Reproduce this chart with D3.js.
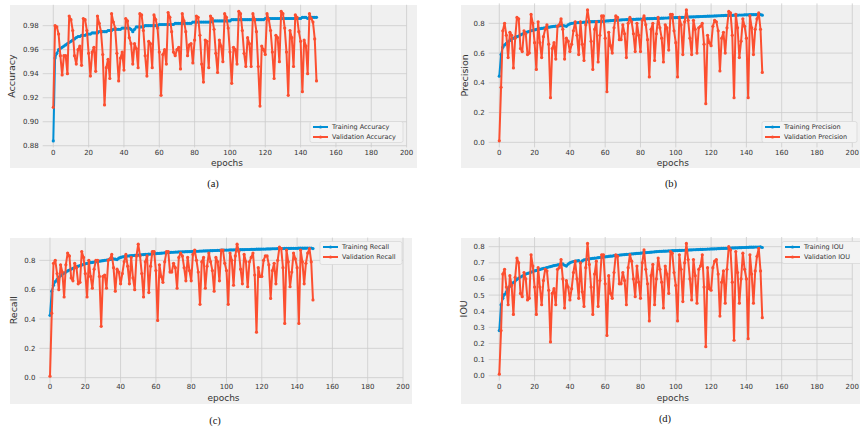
<!DOCTYPE html>
<html>
<head>
<meta charset="utf-8">
<script src="https://cdn.jsdelivr.net/npm/d3@7"></script>
<style>
body { margin: 0; background: #fff; }
svg { display: block; font-family: "DejaVu Sans", sans-serif; }
</style>
</head>
<body>
<script>
// epochs 0..149
var epochs = d3.range(150);

var trainAcc = [
 .884,.953,.957,.960,.961,.962,.963,.964,.965,.966,
 .967,.968,.969,.970,.971,.971,.972,.972,.972,.973,
 .973,.973,.974,.974,.974,.974,.975,.975,.975,.975,
 .975,.976,.976,.976,.977,.977,.977,.977,.977,.978,
 .978,.978,.978,.978,.977,.975,.977,.979,.979,.979,
 .979,.979,.980,.980,.980,.980,.980,.980,.980,.980,
 .981,.981,.981,.981,.981,.981,.981,.981,.981,.982,
 .982,.982,.982,.982,.982,.982,.982,.982,.982,.983,
 .983,.983,.983,.983,.983,.983,.983,.983,.983,.983,
 .984,.984,.984,.984,.984,.984,.984,.984,.984,.984,
 .984,.985,.985,.985,.985,.985,.985,.985,.985,.985,
 .985,.985,.985,.985,.985,.985,.985,.985,.985,.985,
 .986,.986,.986,.986,.986,.986,.986,.986,.986,.986,
 .986,.986,.986,.986,.986,.986,.986,.986,.986,.986,
 .986,.987,.987,.987,.986,.987,.987,.987,.987,.987];
var valAcc = [
 .912,.980,.979,.973,.955,.939,.955,.955,.940,.988,
 .985,.976,.955,.948,.960,.963,.947,.986,.985,.976,
 .957,.938,.958,.962,.942,.988,.982,.975,.956,.914,
 .945,.952,.936,.990,.983,.978,.957,.934,.953,.958,
 .943,.986,.984,.970,.965,.948,.965,.961,.945,.990,
 .989,.976,.955,.938,.967,.965,.945,.989,.985,.978,
 .958,.922,.956,.960,.948,.991,.987,.975,.958,.955,
 .960,.962,.944,.990,.984,.975,.955,.964,.965,.949,
 .968,.988,.987,.972,.948,.933,.968,.967,.945,.988,
 .986,.977,.957,.941,.968,.963,.950,.990,.987,.978,
 .958,.932,.962,.960,.948,.992,.990,.976,.957,.946,
 .970,.965,.946,.990,.985,.975,.946,.913,.963,.960,
 .956,.990,.985,.976,.958,.936,.972,.970,.950,.992,
 .990,.978,.958,.922,.976,.970,.946,.989,.987,.975,
 .967,.925,.968,.963,.940,.990,.986,.983,.969,.934];

var trainPrec = [
 .445,.590,.640,.655,.665,.675,.685,.695,.700,.705,
 .710,.715,.722,.728,.733,.738,.742,.746,.750,.753,
 .756,.759,.762,.764,.766,.768,.770,.772,.774,.776,
 .778,.780,.781,.782,.783,.784,.785,.783,.780,.790,
 .796,.800,.802,.803,.804,.805,.806,.807,.808,.809,
 .810,.810,.811,.811,.812,.812,.813,.813,.814,.814,
 .815,.816,.817,.818,.819,.820,.821,.822,.822,.823,
 .824,.824,.825,.825,.826,.826,.827,.827,.828,.828,
 .829,.829,.830,.830,.831,.831,.832,.832,.833,.833,
 .834,.834,.835,.835,.836,.836,.837,.837,.838,.838,
 .839,.839,.840,.840,.841,.841,.842,.842,.843,.843,
 .844,.844,.845,.845,.846,.846,.847,.847,.848,.848,
 .849,.849,.850,.850,.851,.851,.852,.852,.853,.853,
 .853,.854,.854,.855,.855,.855,.856,.856,.856,.857,
 .857,.857,.858,.858,.858,.858,.859,.859,.859,.855];
var valPrec = [
 .01,.37,.75,.80,.72,.57,.74,.72,.50,.70,
 .84,.83,.63,.61,.75,.73,.59,.60,.86,.80,
 .67,.49,.81,.67,.57,.71,.76,.79,.66,.30,
 .63,.67,.56,.78,.79,.83,.76,.56,.70,.68,
 .61,.66,.75,.81,.72,.59,.81,.66,.55,.79,
 .89,.81,.68,.49,.76,.81,.54,.72,.85,.85,
 .70,.34,.74,.65,.60,.77,.85,.84,.69,.69,
 .79,.73,.57,.80,.84,.81,.73,.61,.80,.72,
 .61,.82,.85,.79,.69,.44,.76,.80,.55,.73,
 .84,.77,.70,.54,.79,.77,.62,.86,.86,.75,
 .67,.44,.84,.79,.59,.81,.89,.82,.70,.59,
 .82,.76,.60,.77,.78,.80,.66,.26,.72,.67,
 .65,.78,.82,.81,.75,.48,.70,.74,.60,.77,
 .88,.87,.72,.30,.86,.77,.57,.68,.83,.78,
 .70,.30,.85,.77,.59,.76,.83,.87,.76,.47];

var trainRec = [
 .425,.590,.630,.655,.670,.685,.695,.705,.712,.720,
 .728,.734,.740,.745,.750,.756,.760,.764,.768,.772,
 .776,.779,.782,.784,.786,.788,.790,.792,.794,.796,
 .798,.800,.802,.804,.806,.808,.810,.808,.805,.815,
 .820,.823,.825,.827,.829,.831,.832,.833,.834,.835,
 .836,.837,.838,.839,.840,.841,.842,.843,.844,.845,
 .846,.847,.848,.849,.850,.851,.852,.853,.854,.855,
 .855,.856,.856,.857,.857,.858,.858,.859,.859,.860,
 .860,.861,.861,.862,.862,.863,.863,.864,.864,.865,
 .865,.866,.866,.867,.867,.868,.868,.869,.869,.870,
 .870,.870,.871,.871,.871,.872,.872,.872,.873,.873,
 .873,.874,.874,.874,.875,.875,.875,.876,.876,.876,
 .877,.877,.877,.878,.878,.878,.879,.879,.879,.880,
 .880,.880,.880,.881,.881,.881,.881,.882,.882,.882,
 .882,.883,.883,.883,.883,.883,.884,.884,.884,.880];
var valRec = [
 .01,.44,.78,.80,.71,.60,.77,.72,.55,.77,
 .85,.83,.68,.66,.78,.75,.64,.65,.86,.82,
 .71,.55,.80,.69,.61,.74,.80,.80,.69,.35,
 .69,.70,.61,.80,.81,.84,.75,.59,.74,.72,
 .64,.71,.79,.84,.76,.64,.82,.68,.60,.83,
 .91,.83,.71,.55,.79,.83,.58,.76,.86,.86,
 .73,.39,.77,.69,.65,.79,.86,.86,.72,.72,
 .78,.75,.61,.82,.85,.83,.75,.66,.82,.73,
 .66,.84,.87,.80,.72,.50,.79,.82,.61,.76,
 .85,.79,.73,.59,.82,.79,.66,.87,.87,.78,
 .73,.50,.85,.80,.63,.83,.91,.86,.74,.64,
 .84,.79,.62,.79,.82,.85,.70,.31,.75,.69,
 .69,.80,.83,.83,.77,.54,.73,.78,.64,.80,
 .89,.88,.75,.37,.87,.79,.62,.72,.85,.81,
 .75,.37,.87,.79,.64,.78,.85,.88,.79,.53];

var trainIou = [
 .280,.440,.480,.505,.520,.540,.555,.567,.578,.588,
 .597,.605,.612,.618,.624,.630,.634,.638,.642,.646,
 .650,.653,.656,.659,.662,.665,.668,.671,.674,.677,
 .680,.683,.685,.687,.689,.691,.693,.685,.680,.692,
 .700,.705,.708,.710,.712,.714,.700,.712,.718,.720,
 .722,.724,.726,.728,.729,.730,.732,.733,.734,.736,
 .737,.738,.740,.741,.742,.744,.745,.746,.748,.749,
 .750,.751,.752,.753,.754,.755,.756,.757,.758,.759,
 .760,.761,.762,.763,.764,.765,.766,.767,.768,.769,
 .770,.771,.771,.772,.772,.773,.774,.774,.775,.775,
 .776,.776,.777,.777,.778,.778,.779,.779,.780,.780,
 .781,.781,.782,.782,.783,.783,.784,.784,.785,.785,
 .786,.786,.787,.787,.788,.788,.789,.789,.790,.790,
 .791,.791,.792,.792,.793,.793,.794,.794,.795,.795,
 .796,.796,.797,.797,.797,.798,.798,.798,.799,.795];
var valIou = [
 .01,.28,.63,.66,.55,.44,.62,.56,.38,.61,
 .73,.70,.51,.49,.64,.60,.47,.48,.75,.68,
 .55,.38,.67,.55,.44,.59,.66,.65,.53,.21,
 .51,.54,.44,.66,.67,.72,.60,.42,.59,.55,
 .47,.54,.64,.71,.60,.48,.70,.52,.43,.67,
 .82,.69,.55,.38,.63,.71,.43,.59,.75,.75,
 .57,.25,.62,.51,.48,.64,.75,.74,.57,.57,
 .64,.59,.44,.67,.75,.71,.60,.49,.68,.58,
 .48,.70,.78,.66,.57,.34,.62,.69,.44,.60,
 .73,.66,.58,.42,.68,.63,.51,.77,.76,.64,
 .56,.34,.75,.66,.46,.70,.82,.72,.60,.47,
 .72,.62,.45,.66,.68,.75,.55,.18,.67,.54,
 .53,.67,.71,.72,.63,.37,.58,.65,.45,.66,
 .80,.78,.58,.22,.77,.64,.45,.60,.76,.66,
 .60,.23,.75,.63,.45,.65,.74,.79,.65,.36];

var xTicks = [0, 20, 40, 60, 80, 100, 120, 140, 160, 180, 200];
var accTicks = [0.88, 0.90, 0.92, 0.94, 0.96, 0.98];
var precTicks = [0.0, 0.2, 0.4, 0.6, 0.8];
var recTicks = [0.0, 0.2, 0.4, 0.6, 0.8];
var iouTicks = [0.0, 0.1, 0.2, 0.3, 0.4, 0.5, 0.6, 0.7, 0.8];

var blue = "#008fd5", red = "#fc4f30";

var width = 860, height = 427;

var svg = d3.select("body").append("svg")
    .attr("width", width)
    .attr("height", height);

//panel layout: background box, axis pixel ranges, legend box, caption spot
var panels = [
  {cap: "(a)", ylab: "Accuracy", train: trainAcc, val: valAcc, ticks: accTicks, fmt: ".2f",
   names: ["Training Accuracy", "Validation Accuracy"],
   bg: [10, 5, 417, 168], xr: [42.7, 406.6], yd: [0.8786, 0.9974], yr: [147.4, 4.8],
   tickY: 154.5, xlabY: 166, ylabX: 15, leg: [310, 121.5, 93, 21], capXY: [213, 187]},
  {cap: "(b)", ylab: "Precision", train: trainPrec, val: valPrec, ticks: precTicks, fmt: ".1f",
   names: ["Training Precision", "Validation Precision"],
   bg: [461, 5, 870, 168], xr: [488.7, 852.3], yd: [-0.034, 0.934], yr: [147.4, 3.4],
   tickY: 154.5, xlabY: 166, ylabX: 468, leg: [762, 121.5, 95, 21], capXY: [671, 187]},
  {cap: "(c)", ylab: "Recall", train: trainRec, val: valRec, ticks: recTicks, fmt: ".1f",
   names: ["Training Recall", "Validation Recall"],
   bg: [10, 238, 412, 404], xr: [39.4, 403], yd: [-0.035, 0.955], yr: [382.8, 237.6],
   tickY: 389, xlabY: 400.5, ylabX: 17, leg: [320, 241.5, 82, 23], capXY: [215, 424]},
  {cap: "(d)", ylab: "IOU", train: trainIou, val: valIou, ticks: iouTicks, fmt: ".1f",
   names: ["Training IOU", "Validation IOU"],
   bg: [461, 238, 870, 404], xr: [488.7, 852.3], yd: [-0.03, 0.86], yr: [380.6, 237],
   tickY: 389, xlabY: 400.5, ylabX: 467, leg: [782, 241.5, 82, 22], capXY: [665, 422]}
];

panels.forEach(function(p){
    var g = svg.append("g");

    g.append("rect")
        .attr("x", p.bg[0]).attr("y", p.bg[1])
        .attr("width", p.bg[2] - p.bg[0]).attr("height", p.bg[3] - p.bg[1])
        .attr("fill", "#f0f0f0");

    var x = d3.scaleLinear().domain([-6, 200]).range(p.xr);
    var y = d3.scaleLinear().domain(p.yd).range(p.yr);

    //grid
    g.selectAll(".vg").data(xTicks).enter().append("line")
        .attr("x1", x).attr("x2", x)
        .attr("y1", p.yr[0]).attr("y2", p.yr[1])
        .attr("stroke", "#cbcbcb").attr("stroke-width", 0.8);
    g.selectAll(".hg").data(p.ticks).enter().append("line")
        .attr("x1", p.xr[0]).attr("x2", p.xr[1])
        .attr("y1", y).attr("y2", y)
        .attr("stroke", "#cbcbcb").attr("stroke-width", 0.8);

    //tick labels
    g.selectAll(".xt").data(xTicks).enter().append("text")
        .attr("x", x).attr("y", p.tickY)
        .attr("text-anchor", "middle")
        .attr("font-size", 7).attr("fill", "#333")
        .text(function(d){ return d; });
    g.selectAll(".yt").data(p.ticks).enter().append("text")
        .attr("x", p.xr[0] - 4).attr("y", function(d){ return y(d) + 2.5; })
        .attr("text-anchor", "end")
        .attr("font-size", 7).attr("fill", "#333")
        .text(d3.format(p.fmt));

    g.append("text")
        .attr("x", (x(0) + x(200)) / 2 - 3).attr("y", p.xlabY)
        .attr("text-anchor", "middle").attr("font-size", 9).attr("fill", "#333")
        .text("epochs");
    g.append("text")
        .attr("transform", "translate(" + p.ylabX + "," + ((p.yr[0] + p.yr[1]) / 2) + ") rotate(-90)")
        .attr("text-anchor", "middle").attr("font-size", 9.5).attr("fill", "#333")
        .text(p.ylab);

    var line = d3.line()
        .x(function(d, i){ return x(epochs[i]); })
        .y(function(d){ return y(d); });

    [[p.train, blue], [p.val, red]].forEach(function(s){
        g.append("path")
            .datum(s[0])
            .attr("d", line)
            .attr("fill", "none")
            .attr("stroke", s[1])
            .attr("stroke-width", 2)
            .attr("stroke-linejoin", "round");
        g.selectAll(null).data(s[0]).enter().append("circle")
            .attr("cx", function(d, i){ return x(epochs[i]); })
            .attr("cy", y)
            .attr("r", 1.6)
            .attr("fill", s[1]);
    });

    //legend
    var lg = g.append("g");
    lg.append("rect")
        .attr("x", p.leg[0]).attr("y", p.leg[1])
        .attr("width", p.leg[2]).attr("height", p.leg[3])
        .attr("rx", 2)
        .attr("fill", "#f3f3f3").attr("stroke", "#d6d6d6").attr("stroke-width", 0.7);
    p.names.forEach(function(n, i){
        var ly = p.leg[1] + 5.5 + i * 10;
        lg.append("line")
            .attr("x1", p.leg[0] + 3).attr("x2", p.leg[0] + 18)
            .attr("y1", ly).attr("y2", ly)
            .attr("stroke", i ? red : blue).attr("stroke-width", 2);
        lg.append("circle")
            .attr("cx", p.leg[0] + 10.5).attr("cy", ly).attr("r", 1.6)
            .attr("fill", i ? red : blue);
        lg.append("text")
            .attr("x", p.leg[0] + 22).attr("y", ly + 2.3)
            .attr("font-size", 6.5).attr("fill", "#333")
            .text(n);
    });

    svg.append("text")
        .attr("x", p.capXY[0]).attr("y", p.capXY[1])
        .attr("text-anchor", "middle")
        .attr("font-family", "'Liberation Serif', 'DejaVu Serif', serif")
        .attr("font-size", 10.5).attr("fill", "#111")
        .text(p.cap);
});
</script>
</body>
</html>
